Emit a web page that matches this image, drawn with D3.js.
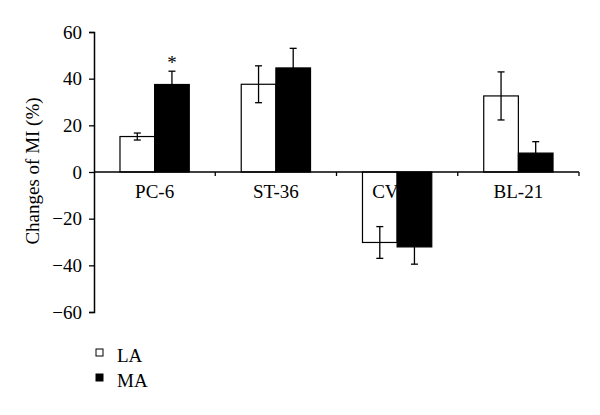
<!DOCTYPE html>
<meta charset="utf-8">
<script src="https://d3js.org/d3.v7.min.js"></script>
<style>
  body { margin: 0; background: #fff; }
  text { font-family: "Liberation Serif", "Times New Roman", serif; }
</style>
<div id="chart"></div>
<script>

    // data
    var sites = ["PC-6", "ST-36", "CV-12", "BL-21"]; // "-12" sits under the MA bar
    var groups = ["LA", "MA"];
    var laValues = [15.2, 37.6, -30.2, 32.6];
    var laErrors = [1.5, 7.9, 6.8, 10.3];
    var maValues = [37.5, 44.6, -32.1, 8.1];
    var maErrors = [5.7, 8.4, 7.4, 4.9];
    var starred = ["PC-6"]; // MA significant
    var yTicks = [-60, -40, -20, 0, 20, 40, 60];

    var width = 600, height = 415;
    var fs = "19px";

    var svg = d3.select("#chart")
        .append("svg")
            .attr("width", width)
            .attr("height", height);

    var y = d3.scaleLinear()
        .domain([-60, 60])
        .range([312, 32]);

    var x = d3.scaleBand()
        .domain(sites)
        .range([94, 579])
        .paddingInner(0)
        .paddingOuter(0);

    var xg = d3.scaleBand()
        .domain(groups)
        .range([0, x.bandwidth()])
        .paddingOuter(0.75)
        .paddingInner(0);

    var rows = [];
    sites.forEach(function(s, i) {
        rows.push({site: s, group: "LA", value: laValues[i], err: laErrors[i]});
        rows.push({site: s, group: "MA", value: maValues[i], err: maErrors[i]});
    });

    // category labels (drawn under the bars, like the original)
    svg.append("g")
        .selectAll("text")
        .data(sites)
        .enter()
        .append("text")
            .attr("x", function(d) { return x(d) + x.bandwidth() / 2; })
            .attr("y", 198)
            .attr("text-anchor", "middle")
            .style("font-size", fs)
            .text(function(d) { return d; });

    // bars (LA is an open bar, so labels show through)
    svg.append("g")
        .selectAll("rect")
        .data(rows)
        .enter()
        .append("rect")
            .attr("x", function(d) { return x(d.site) + xg(d.group); })
            .attr("y", function(d) { return y(Math.max(0, d.value)); })
            .attr("width", xg.bandwidth())
            .attr("height", function(d) { return Math.abs(y(d.value) - y(0)); })
            .style("fill", function(d) { return d.group == "LA" ? "none" : "#000"; })
            .style("stroke", "#000")
            .style("stroke-width", 1.2);

    // error bars
    var eb = svg.append("g")
        .selectAll("g")
        .data(rows)
        .enter()
        .append("g")
            .style("stroke", "#000")
            .style("stroke-width", 1.3);
    function cx(d) { return x(d.site) + xg(d.group) + xg.bandwidth() / 2; }
    eb.append("line")
        .attr("x1", cx).attr("x2", cx)
        .attr("y1", function(d) { return y(d.value - d.err); })
        .attr("y2", function(d) { return y(d.value + d.err); });
    eb.append("line")
        .attr("x1", function(d) { return cx(d) - 3.5; })
        .attr("x2", function(d) { return cx(d) + 3.5; })
        .attr("y1", function(d) { return y(d.value + d.err); })
        .attr("y2", function(d) { return y(d.value + d.err); });
    eb.append("line")
        .attr("x1", function(d) { return cx(d) - 3.5; })
        .attr("x2", function(d) { return cx(d) + 3.5; })
        .attr("y1", function(d) { return y(d.value - d.err); })
        .attr("y2", function(d) { return y(d.value - d.err); });

    // significance star
    svg.append("g")
        .selectAll("text")
        .data(rows.filter(function(d) { return d.group == "MA" && starred.indexOf(d.site) >= 0; }))
        .enter()
        .append("text")
            .attr("x", cx)
            .attr("y", function(d) { return y(d.value + d.err) - 2; })
            .attr("text-anchor", "middle")
            .style("font-size", fs)
            .text("*");

    // x axis at zero with downward ticks at band edges
    svg.append("line")
        .attr("x1", x.range()[0]).attr("x2", x.range()[1])
        .attr("y1", y(0)).attr("y2", y(0))
        .style("stroke", "#000").style("stroke-width", 1.5);
    var edges = sites.map(function(s) { return x(s); }).concat([x.range()[1]]);
    svg.append("g")
        .selectAll("line")
        .data(edges.slice(1))
        .enter()
        .append("line")
            .attr("x1", function(d) { return d; }).attr("x2", function(d) { return d; })
            .attr("y1", y(0)).attr("y2", y(0) + 4)
            .style("stroke", "#000").style("stroke-width", 1.3);

    // y axis
    var yAxis = svg.append("g")
        .attr("transform", "translate(94,0)")
        .call(d3.axisLeft(y).tickValues(yTicks).tickSize(5).tickPadding(7)
            .tickFormat(function(d) { return d < 0 ? "\u2212" + Math.abs(d) : d; }));
    yAxis.select(".domain").style("stroke-width", 1.5);
    yAxis.selectAll(".tick line").style("stroke-width", 1.3);
    yAxis.selectAll("text")
        .style("font-family", "'Liberation Serif', serif")
        .style("font-size", fs)
        .style("fill", "#000");

    svg.append("text")
        .attr("transform", "rotate(-90)")
        .attr("x", -171)
        .attr("y", 39)
        .attr("text-anchor", "middle")
        .style("font-size", fs)
        .text("Changes of MI (%)");

    // legend
    var legend = svg.append("g")
        .selectAll("g")
        .data(groups)
        .enter()
        .append("g")
            .attr("transform", function(d, i) { return "translate(96," + (349 + i * 25) + ")"; });
    legend.append("rect")
        .attr("width", 7).attr("height", 7)
        .style("fill", function(d) { return d == "LA" ? "#fff" : "#000"; })
        .style("stroke", "#000")
        .style("stroke-width", 1);
    legend.append("text")
        .attr("x", 21)
        .attr("y", 13)
        .style("font-size", fs)
        .text(function(d) { return d; });

</script>
